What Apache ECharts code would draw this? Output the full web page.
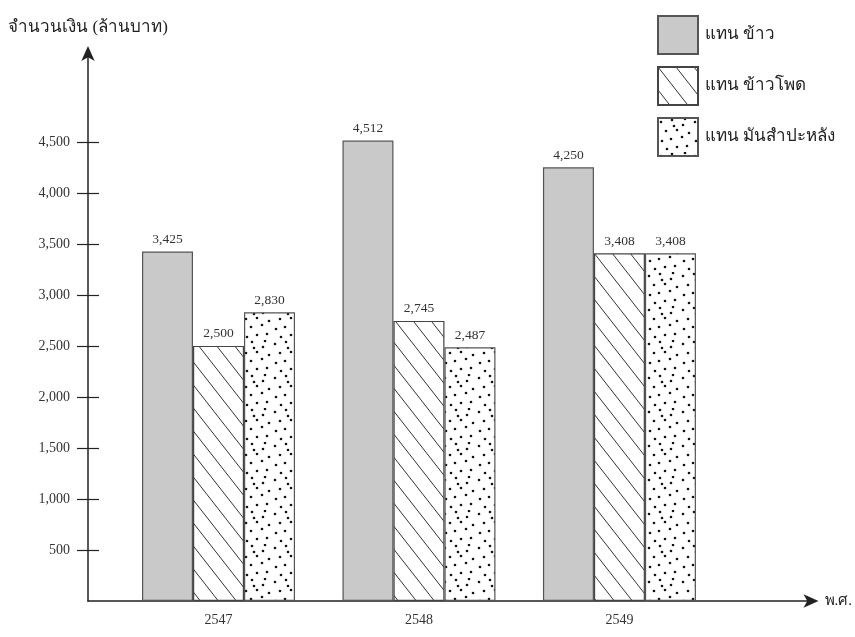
<!DOCTYPE html>
<html><head><meta charset="utf-8">
<script src="https://cdn.jsdelivr.net/npm/echarts@6/dist/echarts.min.js"></script>
<style>html,body{margin:0;background:#fff}#c{width:855px;height:637px}</style>
</head><body><div id="c"></div>
<script>
const years = ['2547', '2548', '2549'];
const seriesNames = ['แทน ข้าว', 'แทน ข้าวโพด', 'แทน มันสำปะหลัง'];
const rice = [3425, 4512, 4250];
const corn = [2500, 2745, 3408];
const cassava = [2830, 2487, 3408];
const yTickValues = [500, 1000, 1500, 2000, 2500, 3000, 3500, 4000, 4500];
const yAxisName = 'จำนวนเงิน (ล้านบาท)';
const xAxisName = 'พ.ศ.';

const FONT = "'Liberation Serif','DejaVu Serif',serif";
const fmt = v => String(v).replace(/\B(?=(\d{3})+(?!\d))/g, ',');

function hatchPattern() {
  const W = 18, H = 23;
  const c = document.createElement('canvas');
  c.width = W; c.height = H;
  const g = c.getContext('2d');
  g.fillStyle = '#fff'; g.fillRect(0, 0, W, H);
  g.strokeStyle = '#333'; g.lineWidth = 1;
  for (let k = -1; k <= 1; k++) {
    g.beginPath(); g.moveTo(k * W, 0); g.lineTo(k * W + W, H); g.stroke();
  }
  return c;
}
function dotPattern() {
  const S = 34;
  const c = document.createElement('canvas');
  c.width = S; c.height = S;
  const g = c.getContext('2d');
  g.fillStyle = '#fff'; g.fillRect(0, 0, S, S);
  g.fillStyle = '#111';
  const pts = [[3,4],[14,2],[25,7],[31,15],[8,13],[19,12],[4,23],[13,21],[24,19],[29,28],[9,31],[19,29],[16,8],[27,1]];
  pts.forEach(p => { g.beginPath(); g.arc(p[0], p[1], 1.3, 0, Math.PI * 2); g.fill(); });
  return c;
}

const valueLabel = {
  show: true, position: 'top', distance: 5,
  fontFamily: FONT, fontSize: 13.5, color: '#333',
  formatter: p => fmt(p.value[1])
};
const toData = arr => arr.map((v, i) => [i + 1, v]);
const tickStyle = { color: '#222', width: 1.2 };

const chart = echarts.init(document.getElementById('c'));
chart.setOption({
  backgroundColor: '#ffffff',
  animation: false,
  textStyle: { fontFamily: FONT },
  grid: { left: 88, right: 35, top: 50, bottom: 36 },
  legend: {
    orient: 'vertical', left: 652, top: 10,
    itemWidth: 40, itemHeight: 38, itemGap: 11,
    icon: 'rect',
    textStyle: { fontFamily: FONT, fontSize: 17, color: '#222', padding: [0, 0, 0, 2] },
    data: seriesNames
  },
  xAxis: {
    type: 'value', min: 0.349, max: 3.973,
    name: xAxisName, nameLocation: 'end', nameGap: 10,
    nameTextStyle: { fontFamily: FONT, fontSize: 15, color: '#222' },
    axisLine: { show: true, lineStyle: { color: '#222', width: 1.5 }, symbol: ['none', 'arrow'], symbolSize: [10, 15], symbolOffset: [0, 4] },
    axisTick: { show: false },
    splitLine: { show: false },
    axisLabel: {
      customValues: [1, 2, 3], margin: 12,
      fontFamily: FONT, fontSize: 14, color: '#333',
      formatter: v => years[Math.round(v) - 1]
    }
  },
  yAxis: [{
    type: 'value', min: 0, max: 5400,
    name: yAxisName, nameLocation: 'end', nameGap: 14,
    nameTextStyle: { fontFamily: FONT, fontSize: 17, color: '#222' },
    axisLine: { show: true, lineStyle: { color: '#222', width: 1.5 }, symbol: ['none', 'arrow'], symbolSize: [10, 15], symbolOffset: [0, 4] },
    axisTick: { show: true, customValues: yTickValues, length: 11, lineStyle: tickStyle },
    splitLine: { show: false },
    axisLabel: {
      customValues: yTickValues, margin: 18,
      fontFamily: FONT, fontSize: 14, color: '#333',
      formatter: v => fmt(v)
    }
  }, {
    type: 'value', min: 0, max: 5400, position: 'left', offset: -11,
    axisLine: { show: false },
    axisTick: { show: true, customValues: yTickValues, length: 11, lineStyle: tickStyle },
    axisLabel: { show: true, customValues: yTickValues, color: 'rgba(0,0,0,0)', formatter: () => '' },
    splitLine: { show: false }
  }],
  series: [
    {
      name: seriesNames[0], type: 'bar', barWidth: 51, barGap: '0%',
      data: toData(rice),
      itemStyle: { color: '#c9c9c9', borderColor: '#555', borderWidth: 1.2 },
      label: valueLabel
    },
    {
      name: seriesNames[1], type: 'bar', barWidth: 51, barGap: '0%',
      data: toData(corn),
      itemStyle: { color: { image: hatchPattern(), repeat: 'repeat' }, borderColor: '#444', borderWidth: 1.2 },
      label: valueLabel
    },
    {
      name: seriesNames[2], type: 'bar', barWidth: 51, barGap: '0%',
      data: toData(cassava),
      itemStyle: { color: { image: dotPattern(), repeat: 'repeat' }, borderColor: '#555', borderWidth: 1.2 },
      label: valueLabel
    }
  ]
});
</script>
</body></html>
